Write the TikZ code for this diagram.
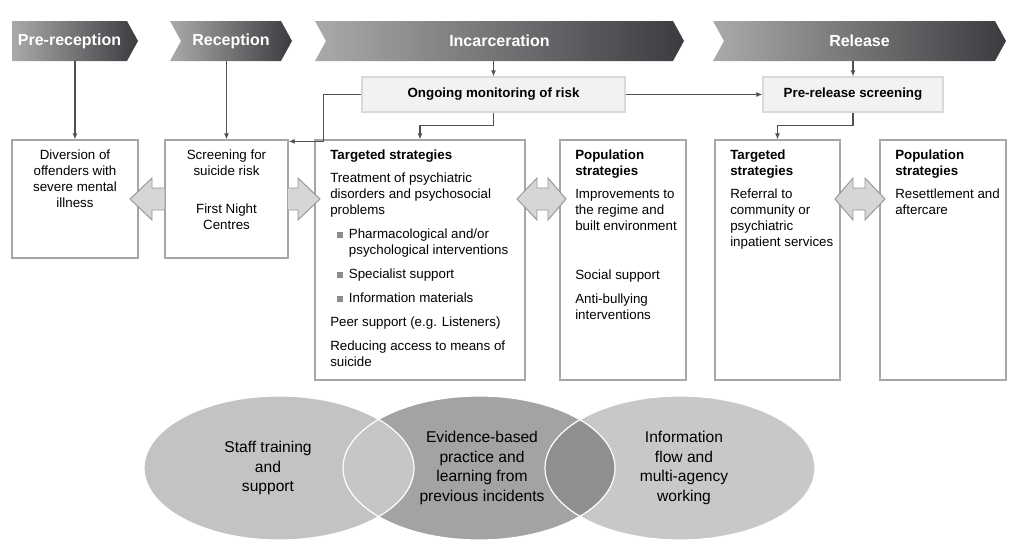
\documentclass[tikz,border=0pt]{standalone}
\usepackage{fontspec}
\setmainfont{Liberation Sans}
\usetikzlibrary{arrows.meta,fit,calc}

\definecolor{chevlight}{RGB}{170,170,172}
\definecolor{chevdark}{RGB}{60,60,64}
\definecolor{boxline}{RGB}{166,166,166}
\definecolor{monfill}{RGB}{242,242,242}
\definecolor{monline}{RGB}{217,217,217}
\definecolor{linkgray}{RGB}{80,80,80}
\definecolor{blockfill}{RGB}{214,214,214}
\definecolor{blockline}{RGB}{150,150,150}
\definecolor{bulletgray}{RGB}{140,140,140}
\definecolor{ellleft}{RGB}{195,195,195}
\definecolor{ellmid}{RGB}{163,163,163}
\definecolor{ellright}{RGB}{200,200,200}
\definecolor{overleft}{RGB}{198,198,198}
\definecolor{overright}{RGB}{143,143,143}

\newcommand{\sqbullet}{\makebox[14pt][l]{\hspace{5pt}\textcolor{bulletgray}{\rule[0.6pt]{4.4pt}{4.4pt}}}}

\tikzset{
  chevshade/.style={left color=chevlight, right color=chevdark},
  chevbox/.style={inner sep=0pt},
  chevlabel/.style={inner sep=0pt, text=white, font=\fontsize{12}{14}\selectfont\bfseries},
  stagebox/.style={draw=boxline, line width=0.9pt, fill=white, inner sep=0pt},
  monbox/.style={draw=monline, line width=0.9pt, fill=monfill, inner sep=0pt},
  monlabel/.style={inner sep=0pt, font=\fontsize{10}{12}\selectfont\bfseries},
  boxtext/.style={inner sep=0pt, anchor=north west, align=left, font=\fontsize{10}{12}\selectfont},
  centretext/.style={inner sep=0pt, anchor=north, align=center, font=\fontsize{10}{12}\selectfont},
  link/.style={draw=linkgray, line width=1.3pt, -{Latex[length=4.5pt,width=3.8pt]}},
  blockarrow/.style={fill=blockfill, draw=blockline, line width=0.7pt},
  elltext/.style={inner sep=0pt, align=center, font=\fontsize{11.7}{14.8}\selectfont}
}

\begin{document}
\begin{tikzpicture}[x=0.75pt,y=-0.75pt]
  \useasboundingbox (0,0) rectangle (1024,554);

  % stage chevrons
  \shade[chevshade] (12,21) -- (127,21) -- (138,41) -- (127,61) -- (12,61) -- cycle;
  \shade[chevshade] (170,21) -- (281,21) -- (292,41) -- (281,61) -- (170,61) -- (181,41) -- cycle;
  \shade[chevshade] (315,21) -- (673,21) -- (684,41) -- (673,61) -- (315,61) -- (326,41) -- cycle;
  \shade[chevshade] (713,21) -- (995,21) -- (1006,41) -- (995,61) -- (713,61) -- (724,41) -- cycle;
  \node[chevbox, fit={(12,21) (127,61)}, label={[chevlabel]center:Pre-reception}] (pre) {};
  \node[chevbox, fit={(181,21) (281,61)}, label={[chevlabel]center:Reception}] (rcp) {};
  \node[chevbox, fit={(326,21) (673,61)}, label={[chevlabel]center:Incarceration}] (inc) {};
  \node[chevbox, fit={(724,21) (995,61)}, label={[chevlabel]center:Release}] (rel) {};

  % monitoring boxes
  \node[monbox, fit={(362,77) (625,112)}, label={[monlabel]center:Ongoing monitoring of risk}] (monitor) {};
  \node[monbox, fit={(763,77) (943,112)}, label={[monlabel]center:Pre-release screening}] (prerel) {};

  % stage boxes
  \node[stagebox, fit={(12,140) (138,258)}] (divert) {};
  \node[stagebox, fit={(165,140) (288,258)}] (screen) {};
  \node[stagebox, fit={(315,140) (525,380)}] (tgtinc) {};
  \node[stagebox, fit={(560,140) (686,380)}] (popinc) {};
  \node[stagebox, fit={(715,140) (840,380)}] (tgtrel) {};
  \node[stagebox, fit={(880,140) (1006,380)}] (poprel) {};

  \node[centretext] (divtext) at (75,150) {Diversion of\\offenders with\\severe mental\\illness};
  \node[centretext] (scrtext) at (226.5,150) {Screening for\\suicide risk\\[16.5pt]First Night\\Centres};
  \node[boxtext] (tgtinctext) at (330,150) {\textbf{Targeted strategies}\\[5pt]
    Treatment of psychiatric\\
    disorders and psychosocial\\
    problems\\[6pt]
    \sqbullet Pharmacological and/or\\
    \hspace*{14pt}psychological interventions\\[6pt]
    \sqbullet Specialist support\\[6pt]
    \sqbullet Information materials\\[6pt]
    Peer support (e.g. Listeners)\\[6pt]
    Reducing access to means of\\
    suicide};
  \node[boxtext] (popinctext) at (575,150) {\textbf{Population}\\\textbf{strategies}\\[5pt]
    Improvements to\\the regime and\\built environment\\[25pt]
    Social support\\[6pt]
    Anti-bullying\\interventions};
  \node[boxtext] (tgtreltext) at (730,150) {\textbf{Targeted}\\\textbf{strategies}\\[5pt]
    Referral to\\community or\\psychiatric\\inpatient services};
  \node[boxtext] (popreltext) at (895,150) {\textbf{Population}\\\textbf{strategies}\\[5pt]
    Resettlement and\\aftercare};

  % connectors
  \draw[link] (divert.north |- pre.south) -- (divert.north);
  \draw[link] (screen.north |- rcp.south) -- (screen.north);
  \draw[link] (monitor.north |- inc.south) -- (monitor.north);
  \draw[link] (prerel.north |- rel.south) -- (prerel.north);
  \draw[link] (monitor.east) -- (prerel.west);
  \draw[link] (monitor.south) -- ++(0,13) -| (tgtinc.north);
  \draw[link] (prerel.south) -- ++(0,13) -| (tgtrel.north);
  \draw[link] (monitor.west) -- ++(-38,0) |- ($(screen.north east)+(0,2)$);

  % block arrows
  \draw[blockarrow] (130,199) -- (152,178) -- (152,188) -- (165,188) -- (165,210)
    -- (152,210) -- (152,220) -- cycle;
  \draw[blockarrow] (288,188) -- (298,188) -- (298,178) -- (320,199) -- (298,220)
    -- (298,210) -- (288,210);
  \draw[blockarrow] (517,199) -- (537,178) -- (537,188) -- (548,188) -- (548,178)
    -- (566,199) -- (548,220) -- (548,210) -- (537,210) -- (537,220) -- cycle;
  \draw[blockarrow] (835,199) -- (853,178) -- (853,188) -- (865,188) -- (865,178)
    -- (885,199) -- (865,220) -- (865,210) -- (853,210) -- (853,220) -- cycle;

  % overlapping ellipses
  \fill[ellleft] (279,468) ellipse [x radius=135, y radius=72];
  \fill[ellright] (680,468) ellipse [x radius=135, y radius=72];
  \fill[ellmid] (479,468) ellipse [x radius=136, y radius=72];
  \begin{scope}
    \clip (479,468) ellipse [x radius=136, y radius=72];
    \fill[overleft] (279,468) ellipse [x radius=135, y radius=72];
    \fill[overright] (680,468) ellipse [x radius=135, y radius=72];
  \end{scope}
  \begin{scope}[white, line width=0.9pt]
    \draw (279,468) ellipse [x radius=135, y radius=72];
    \draw (680,468) ellipse [x radius=135, y radius=72];
    \draw (479,468) ellipse [x radius=136, y radius=72];
  \end{scope}
  \node[elltext] (staff) at (268,468) {Staff training\\and\\support};
  \node[elltext] (evid) at (482,468) {Evidence-based\\practice and\\learning from\\previous incidents};
  \node[elltext] (info) at (684,468) {Information\\flow and\\multi-agency\\working};
\end{tikzpicture}
\end{document}
